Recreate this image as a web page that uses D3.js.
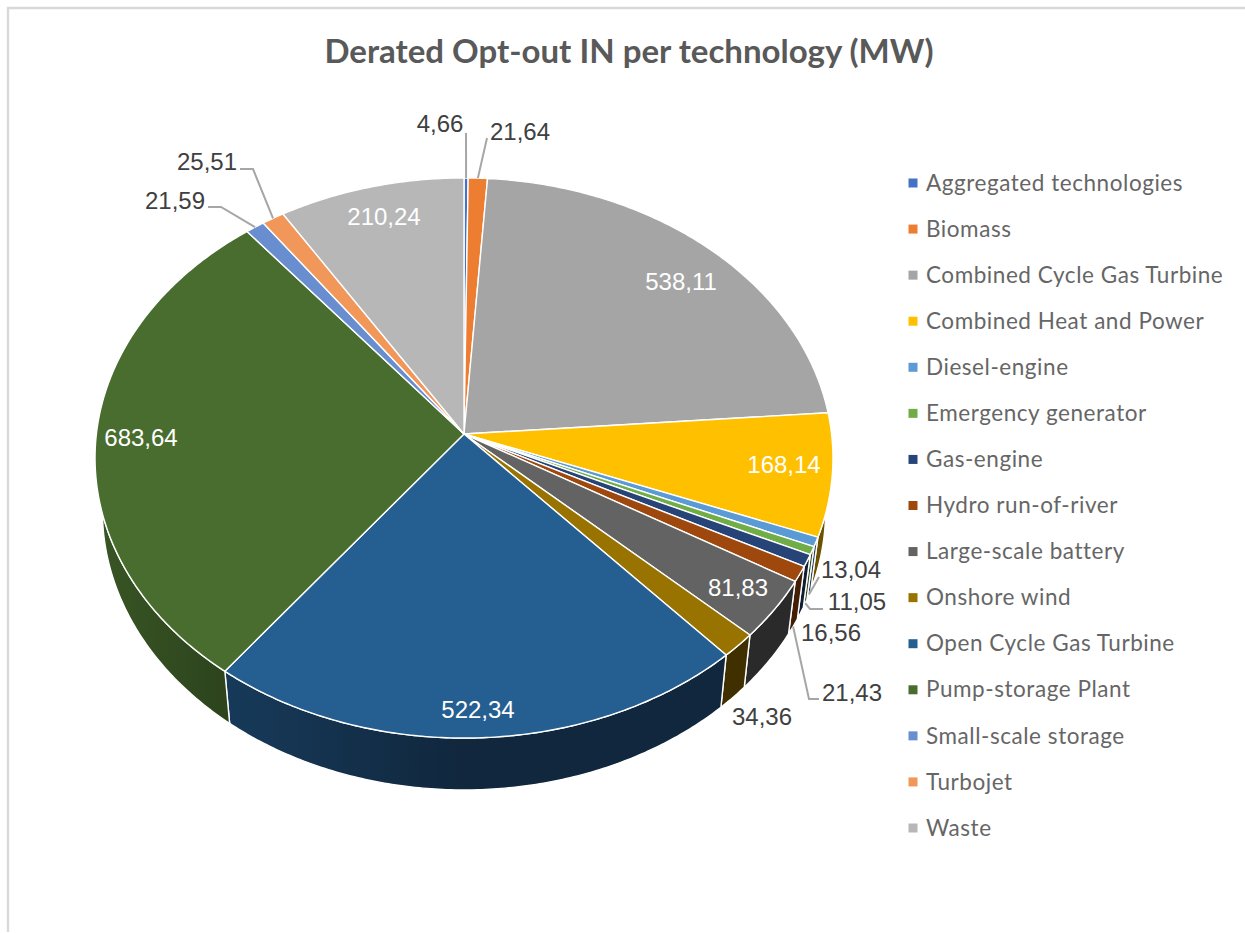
<!DOCTYPE html>
<html lang="en">
<head>
<meta charset="UTF-8">
<title>Derated Opt-out IN per technology (MW)</title>
<style>
    html, body { margin: 0; background: #fff; }
    svg { display: block; }
    .title { font: bold 33px Lato, sans-serif; fill: #595959; }
    .legend text { font: 22.5px Lato, sans-serif; letter-spacing: 0.55px; fill: #666; }
    .label { font: 24px "Liberation Sans", Arial, sans-serif; fill: #404040; }
    .label.inside { fill: #fff; }
    .leader { fill: none; stroke: #a6a6a6; stroke-width: 2; }
    .top, .wall { stroke: #fff; stroke-width: 1.4; stroke-linejoin: round; }
</style>
</head>
<body>
<script src="https://d3js.org/d3.v7.min.js"></script>
<script>
    var categories = ["Aggregated technologies", "Biomass", "Combined Cycle Gas Turbine",
        "Combined Heat and Power", "Diesel-engine", "Emergency generator", "Gas-engine",
        "Hydro run-of-river", "Large-scale battery", "Onshore wind", "Open Cycle Gas Turbine",
        "Pump-storage Plant", "Small-scale storage", "Turbojet", "Waste"];
    var values = [4.66, 21.64, 538.11, 168.14, 13.04, 11.05, 16.56, 21.43, 81.83, 34.36,
        522.34, 683.64, 21.59, 25.51, 210.24];
    var colors = ["#4472c4", "#ed7d31", "#a5a5a5", "#ffc000", "#5b9bd5", "#70ad47", "#264478",
        "#9e480e", "#636363", "#997300", "#255e91", "#486d2e", "#698ed0", "#f1975a", "#b7b7b7"];

    // label layout, same order as categories: [x, y, text-anchor, leader start, elbow]
    var labelLayout = [
        [440, 123, "middle", [466, 133], null],
        [520, 131, "middle", [487, 138], null],
        [681, 281, "middle", null, null],
        [784, 464, "middle", null, null],
        [851, 569, "middle", [819, 577], null],
        [857, 601, "middle", [823, 609], [810, 609]],
        [831, 632, "middle", null, null],
        [852, 692, "middle", [819, 699], [809, 699]],
        [738, 587, "middle", null, null],
        [762, 716, "middle", null, null],
        [478, 709, "middle", null, null],
        [141, 437, "middle", null, null],
        [175, 200, "middle", [208, 207], [221, 207]],
        [207, 161, "middle", [240, 169], [253, 169]],
        [384, 216, "middle", null, null]
    ];

    var width = 1245, height = 933;

    // pie seen in perspective: apex of the slices is not the middle of the ellipse
    var cx = 464, cy = 434, rx = 367.6, ry = 278, k = 0.0857;
    var bottomScale = 0.98, depth = 53;

    function topPoint(a) {
        var u = Math.sin(a), v = -Math.cos(a), w = 1 - k * v;
        return [cx + rx * u / w, cy + ry * v / w];
    }
    function bottomPoint(a) {
        var u = Math.sin(a), v = -Math.cos(a), w = 1 - k * v;
        return [cx + bottomScale * rx * u / w, cy + (bottomScale * ry * v + depth) / w];
    }
    function angles(a0, a1) {
        var n = Math.max(2, Math.ceil((a1 - a0) / 0.01));
        return d3.range(n + 1).map(function(i) { return a0 + (a1 - a0) * i / n; });
    }

    var pie = d3.pie().sort(null).value(function(d) { return d; });
    var arcs = pie(values);
    var line = d3.line();

    var svg = d3.select("body").append("svg")
        .attr("width", width)
        .attr("height", height);

    // thin frame, only top and left are in the shot
    svg.append("path")
        .attr("d", "M8," + (height - 1) + "V8H" + width)
        .attr("fill", "none")
        .attr("stroke", "#d9d9d9")
        .attr("stroke-width", 2.4);

    svg.append("text")
        .attr("class", "title")
        .attr("x", 629)
        .attr("y", 63)
        .attr("text-anchor", "middle")
        .text("Derated Opt-out IN per technology (MW)");

    // wall shade gets lighter to the left
    var shade = d3.scaleLinear().domain([100, 225, 464]).range([0.78, 0.62, 0.42]).clamp(true);
    function darken(color, f) {
        var c = d3.rgb(color);
        return d3.rgb(c.r * f, c.g * f, c.b * f).formatHex();
    }
    var defs = svg.append("defs");
    colors.forEach(function(c, i) {
        var g = defs.append("linearGradient")
            .attr("id", "wall" + i)
            .attr("gradientUnits", "userSpaceOnUse")
            .attr("x1", 100).attr("x2", 464).attr("y1", 0).attr("y2", 0);
        shade.domain().forEach(function(x) {
            g.append("stop")
                .attr("offset", (x - 100) / 364)
                .attr("stop-color", darken(c, shade(x)));
        });
    });

    // walls first, only the part of each slice turned to the viewer
    var wallFrom = Math.PI * 0.4, wallTo = Math.PI * 1.6;
    svg.append("g").selectAll("path")
        .data(arcs.filter(function(d) { return d.endAngle > wallFrom && d.startAngle < wallTo; }))
        .enter().append("path")
        .attr("class", "wall")
        .attr("fill", function(d) { return "url(#wall" + d.index + ")"; })
        .attr("d", function(d) {
            var a = angles(Math.max(d.startAngle, wallFrom), Math.min(d.endAngle, wallTo));
            return line(a.map(topPoint).concat(a.slice().reverse().map(bottomPoint))) + "Z";
        });

    svg.append("g").selectAll("path")
        .data(arcs)
        .enter().append("path")
        .attr("class", "top")
        .attr("fill", function(d) { return colors[d.index]; })
        .attr("d", function(d) {
            return line([[cx, cy]].concat(angles(d.startAngle, d.endAngle).map(topPoint))) + "Z";
        });

    // leader lines end at the slice: back slices on the top face, front ones on the wall
    svg.append("g").selectAll("path")
        .data(arcs.filter(function(d) { return labelLayout[d.index][3]; }))
        .enter().append("path")
        .attr("class", "leader")
        .attr("d", function(d) {
            var l = labelLayout[d.index], mid = (d.startAngle + d.endAngle) / 2;
            var end = (mid > wallFrom && mid < wallTo) ? bottomPoint(mid) : topPoint(mid);
            return line([l[3], l[4], end].filter(Boolean));
        });

    function isInside(i) { return values[i] > 80; }

    svg.append("g").selectAll("text")
        .data(arcs)
        .enter().append("text")
        .attr("class", function(d) { return "label" + (isInside(d.index) ? " inside" : ""); })
        .attr("x", function(d) { return labelLayout[d.index][0]; })
        .attr("y", function(d) { return labelLayout[d.index][1]; })
        .attr("dy", "0.36em")
        .attr("text-anchor", function(d) { return labelLayout[d.index][2]; })
        .text(function(d) { return values[d.index].toFixed(2).replace(".", ","); });

    // legend
    var legendY = d3.scalePoint().domain(categories).range([183, 828]);
    var legend = svg.append("g").attr("class", "legend")
        .selectAll("g")
        .data(categories)
        .enter().append("g")
        .attr("transform", function(d) { return "translate(0," + legendY(d) + ")"; });
    legend.append("rect")
        .attr("x", 908.5).attr("y", -4.5)
        .attr("width", 9).attr("height", 9)
        .attr("fill", function(d, i) { return colors[i]; });
    legend.append("text")
        .attr("x", 926)
        .attr("dy", "0.34em")
        .text(function(d) { return d; });
</script>
</body>
</html>
